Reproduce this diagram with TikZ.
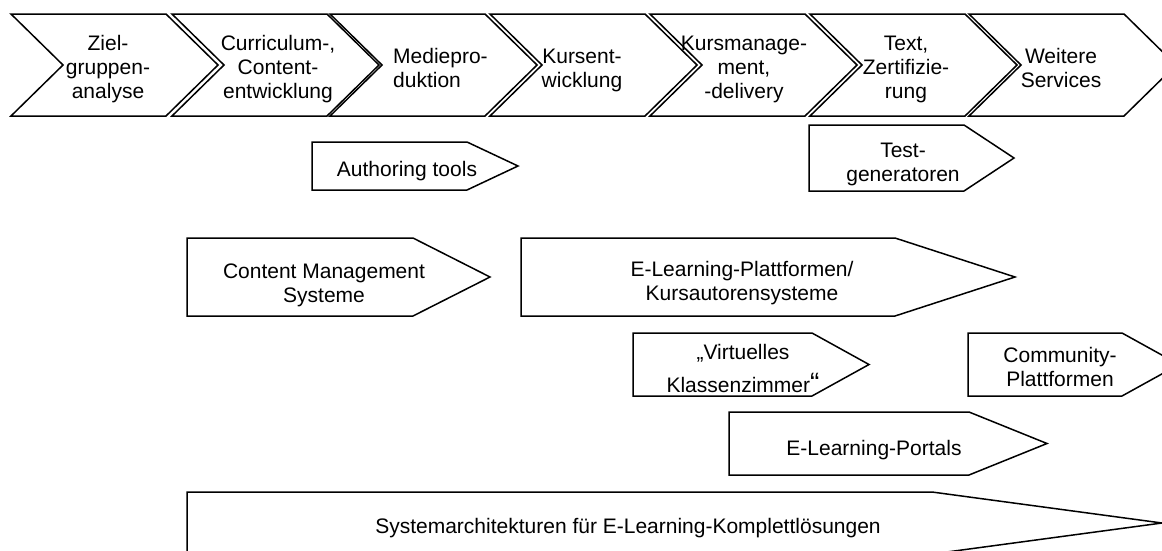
\documentclass[tikz,border=0pt]{standalone}
\usepackage{fontspec}
\setmainfont{Liberation Sans}
\begin{document}
\begin{tikzpicture}[x=1pt,y=-1pt,
  outline/.style={draw=black,line width=1.5pt,line join=miter},
  lbl/.style={align=center,inner sep=0pt,anchor=base,
    font=\fontsize{21}{24}\selectfont}]
\clip (0,0) rectangle (1162,550);
\fill[white] (0,0) rectangle (1162,550);

% process chain: chevrons along the top
% (label positions below give the baseline of each label's last line)
\newcommand\chevpath[1]{%
  \draw[outline] (#1,14) -- ({#1+155},14) -- ({#1+207},65) -- ({#1+155},116)
    -- (#1,116) -- ({#1+52},65) -- cycle;}
\chevpath{11}
\chevpath{172}
\chevpath{330}
\chevpath{490}
\chevpath{650}
\chevpath{810}
\chevpath{969}

\node[lbl] (ziel)    at (108,98)  {Ziel-\\gruppen-\\analyse};
\node[lbl] (curric)  at (278,98)  {Curriculum-,\\Content-\\entwicklung};
\node[lbl,align=left,anchor=base west] (medien) at (393,87) {Mediepro-\\duktion};
\node[lbl] (kursent) at (582,87)  {Kursent-\\wicklung};
\node[lbl] (kursman) at (744,98)  {Kursmanage-\\ment,\\-delivery};
\node[lbl] (test)    at (906,98)  {Text,\\Zertifizie-\\rung};
\node[lbl] (weitere) at (1061,87) {Weitere\\Services};

% tools and systems, each spanning its part of the chain
\draw[outline] (312,142) -- (467,142) -- (518,166) -- (467,190) -- (312,190) -- cycle;
\node[lbl] (authoring) at (407,176) {Authoring tools};

\draw[outline] (809,125) -- (964,125) -- (1014,158) -- (964,191) -- (809,191) -- cycle;
\node[lbl] (testgen) at (903,181) {Test-\\generatoren};

\draw[outline] (187,238) -- (413,238) -- (490,277) -- (413,316) -- (187,316) -- cycle;
\node[lbl] (cms) at (324,302) {Content Management\\Systeme};

\draw[outline] (521,238) -- (895,238) -- (1015,277) -- (895,316) -- (521,316) -- cycle;
\node[lbl] (elp) at (742,300) {E-Learning-Plattformen/\\Kursautorensysteme};

\draw[outline] (633,333) -- (812,333) -- (869,364.5) -- (812,396) -- (633,396) -- cycle;
\node[lbl] (virtuell) at (743,392) {„Virtuelles\\[9pt]Klassenzimmer{\fontsize{28}{24}\selectfont“}};

\draw[outline] (968,333) -- (1122,333) -- (1179,364.5) -- (1122,396) -- (968,396) -- cycle;
\node[lbl] (community) at (1060,386) {Community-\\Plattformen};

\draw[outline] (729,412) -- (969,412) -- (1047,443.5) -- (969,475) -- (729,475) -- cycle;
\node[lbl] (portals) at (874,455) {E-Learning-Portals};

\draw[outline] (187,492) -- (932,492) -- (1162,523) -- (932,554) -- (187,554) -- cycle;
\node[lbl] (systemarch) at (628,533) {Systemarchitekturen für E-Learning-Komplettlösungen};
\end{tikzpicture}
\end{document}
